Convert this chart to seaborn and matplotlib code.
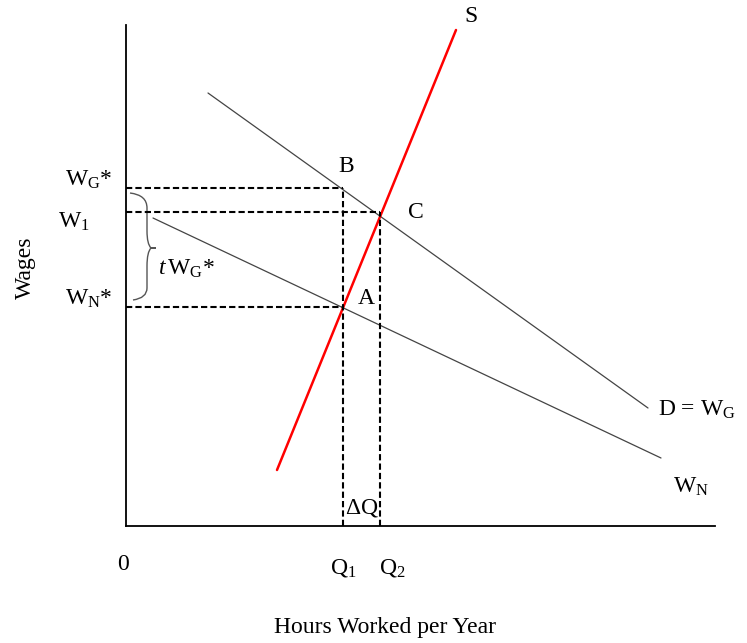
import matplotlib
matplotlib.use("Agg")
import matplotlib.pyplot as plt
from matplotlib.path import Path
from matplotlib.patches import PathPatch
import numpy as np
import pandas as pd
import seaborn as sns

# diagram data (x: hours, y: wage), origin at the axes corner
supply_x = [151, 330]
supply_y = [56, 496]
demand_x = [82, 522]
demand_y = [433, 118]
net_x = [27, 535]
net_y = [308, 68]

q_vals = [217, 254]          # Q1, Q2
w_vals = [338, 314, 219]     # WG*, W1, WN*

sns.set_style("white")
plt.rcParams['font.family'] = ['Liberation Serif', 'DejaVu Serif']
plt.rcParams['mathtext.fontset'] = 'custom'
plt.rcParams['mathtext.rm'] = 'Liberation Serif'
plt.rcParams['mathtext.it'] = 'Liberation Serif:italic'
plt.rcParams['text.color'] = 'black'

fig = plt.figure(figsize=(7.47, 6.43), dpi=100)
ax = fig.add_axes([126 / 747, 117 / 643, 589 / 747, 501 / 643])
ax.set_xlim(0, 589)
ax.set_ylim(0, 501)

lines = pd.DataFrame({
    'x': supply_x + demand_x + net_x,
    'y': supply_y + demand_y + net_y,
    'curve': ['S'] * 2 + ['D'] * 2 + ['N'] * 2,
})
sns.lineplot(data=lines[lines.curve == 'D'], x='x', y='y', color='#444444', lw=0.9, ax=ax, sort=False)
sns.lineplot(data=lines[lines.curve == 'N'], x='x', y='y', color='#444444', lw=0.9, ax=ax, sort=False)
sns.lineplot(data=lines[lines.curve == 'S'], x='x', y='y', color='red', lw=1.8, ax=ax, sort=False)

dash = dict(color='black', lw=1.5, ls=(0, (3, 1.5)))
# horizontal dashed lines
ax.plot([0, q_vals[0]], [w_vals[0]] * 2, **dash)
ax.plot([0, q_vals[1]], [w_vals[1]] * 2, **dash)
ax.plot([0, q_vals[0]], [w_vals[2]] * 2, **dash)
# vertical dashed lines
ax.plot([q_vals[0]] * 2, [0, w_vals[0]], **dash)
ax.plot([q_vals[1]] * 2, [0, w_vals[1]], **dash)

# brace for tW_G*
verts = [(4, 333), (21, 331), (21, 318), (21, 295), (21, 282), (25, 278), (35, 278),
         (25, 278), (21, 274), (21, 260), (21, 238), (21, 228), (7, 226)]
codes = [Path.MOVETO, Path.CURVE3, Path.CURVE3, Path.LINETO, Path.CURVE3, Path.CURVE3, Path.CURVE3,
         Path.CURVE3, Path.CURVE3, Path.LINETO, Path.LINETO, Path.CURVE3, Path.CURVE3]
ax.add_patch(PathPatch(Path(verts, codes), fc='none', ec='#555555', lw=1.0, clip_on=False))

for s in ['top', 'right']:
    ax.spines[s].set_visible(False)
for s in ['left', 'bottom']:
    ax.spines[s].set_color('black')
    ax.spines[s].set_linewidth(1.3)
ax.set_xticks([])
ax.set_yticks([])
ax.set_xlabel('')
ax.set_ylabel('')

fs = 17
txt = dict(fontsize=fs, color='black', clip_on=False)
ax.text(-13, w_vals[0] + 8, r'W$_\mathrm{G}$*', ha='right', va='center', **txt)
ax.text(-36, w_vals[1] - 10, r'W$_\mathrm{1}$', ha='right', va='center', **txt)
ax.text(-13, w_vals[2] + 8, r'W$_\mathrm{N}$*', ha='right', va='center', **txt)
ax.text(32, 257, r'$\it{t}\,$W$_\mathrm{G}$*', ha='left', va='center', **txt)
ax.text(-101, 258, 'Wages', rotation=90, ha='center', va='center', **txt)
ax.text(220, 360, 'B', ha='center', va='center', **txt)
ax.text(290, 314, 'C', ha='center', va='center', **txt)
ax.text(240, 228, 'A', ha='center', va='center', **txt)
ax.text(345, 509, 'S', ha='center', va='center', **txt)
ax.text(532, 116, r'D = W$_\mathrm{G}$', ha='left', va='center', **txt)
ax.text(547, 39, r'W$_\mathrm{N}$', ha='left', va='center', **txt)
ax.text(236, 18, r'$\Delta$Q', ha='center', va='center', **txt)
ax.text(q_vals[0], -42, r'Q$_\mathrm{1}$', ha='center', va='center', **txt)
ax.text(q_vals[1] + 12, -42, r'Q$_\mathrm{2}$', ha='center', va='center', **txt)
ax.text(-3, -39, '0', ha='center', va='center', **txt)
ax.text(259, -101, 'Hours Worked per Year', ha='center', va='center', **txt)

fig.savefig('out.png', dpi=100)
